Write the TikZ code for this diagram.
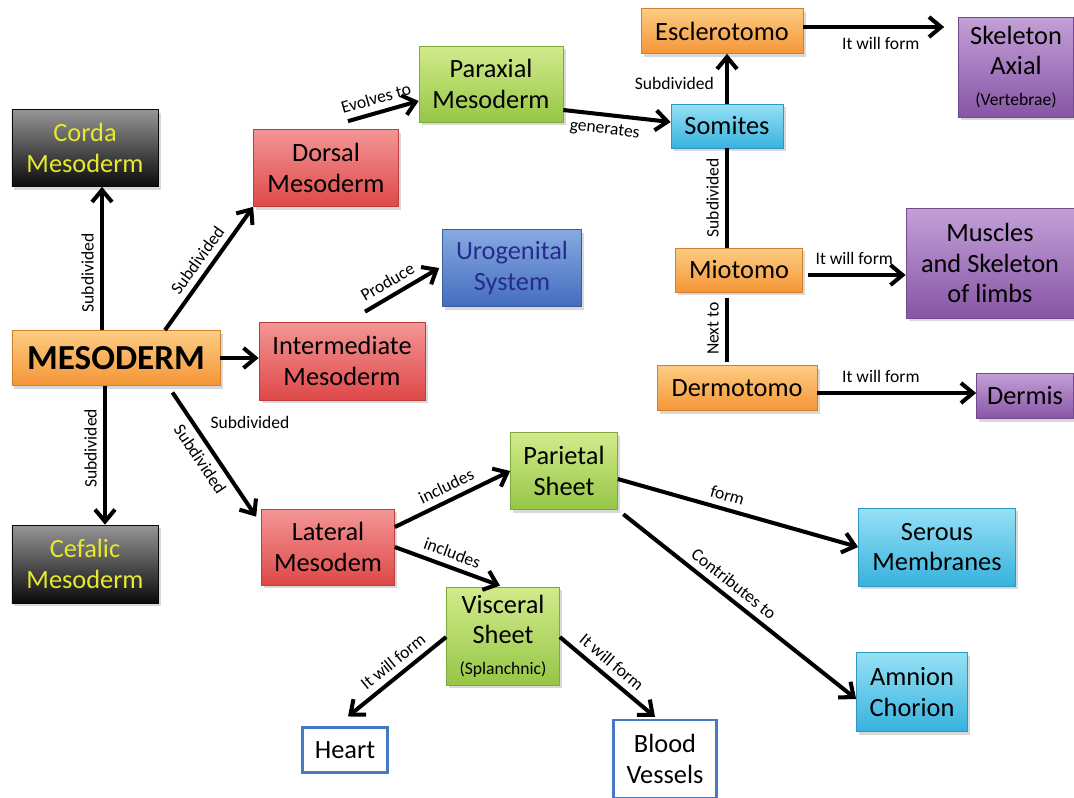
\documentclass[tikz,border=0pt]{standalone}
\usepackage{fontspec}
\setmainfont{Carlito}
\usepackage{tikz}
\usetikzlibrary{arrows.meta,shadows}

\definecolor{orTop}{RGB}{252,204,130}
\definecolor{orBot}{RGB}{245,150,55}
\definecolor{rdTop}{RGB}{244,150,150}
\definecolor{rdBot}{RGB}{222,72,72}
\definecolor{grTop}{RGB}{210,235,140}
\definecolor{grBot}{RGB}{150,198,70}
\definecolor{buTop}{RGB}{135,170,225}
\definecolor{buBot}{RGB}{68,108,190}
\definecolor{cyTop}{RGB}{150,225,245}
\definecolor{cyBot}{RGB}{55,178,222}
\definecolor{ppTop}{RGB}{195,160,215}
\definecolor{ppBot}{RGB}{135,85,165}
\definecolor{bkTop}{RGB}{150,150,150}
\definecolor{bkBot}{RGB}{10,10,10}
\definecolor{yel}{RGB}{232,232,45}
\definecolor{navy}{RGB}{35,45,140}
\definecolor{frame}{RGB}{70,120,195}

\begin{document}
\begin{tikzpicture}[x=0.2mm,y=-0.2mm,>={Straight Barb[length=2.4mm,width=4mm]}]
		\useasboundingbox (0,0) rectangle (1074,797);
		\tikzset{box/.style 2 args={rectangle,top color=#1,bottom color=#2,draw=#2!85!black,line width=0.4pt,align=center,inner sep=2pt,font=\fontsize{15}{17.5}\selectfont,drop shadow={shadow xshift=0.5mm,shadow yshift=-0.6mm,opacity=0.3}}}
		\tikzset{outbox/.style={rectangle,draw=frame,line width=1.2pt,fill=white,align=center,font=\fontsize{15}{17.5}\selectfont}}
		\tikzset{conn/.style={line width=2.3pt,->},link/.style={line width=2.3pt},lbl/.style={font=\fontsize{10}{12}\selectfont,inner sep=3.5pt}}
		\node[box={bkTop}{bkBot},text=yel,minimum width=29.2mm,minimum height=15.4mm] (corda) at (85,148) {Corda\\Mesoderm}; %left column
		\node[box={orTop}{orBot},minimum width=41.6mm,minimum height=11mm,font=\fontsize{20}{24}\selectfont\bfseries] (meso) at (116,358) {MESODERM};
		\node[box={bkTop}{bkBot},text=yel,minimum width=29.2mm,minimum height=15.6mm] (cefalic) at (85,564) {Cefalic\\Mesoderm};
		\node[box={rdTop}{rdBot},minimum width=29mm,minimum height=15.4mm] (dorsal) at (326,168) {Dorsal\\Mesoderm}; %subdivisions
		\node[box={rdTop}{rdBot},minimum width=33.2mm,minimum height=15.6mm] (intermed) at (342,361) {Intermediate\\Mesoderm};
		\node[box={rdTop}{rdBot},minimum width=26.6mm,minimum height=15.2mm] (lateral) at (328,547) {Lateral\\Mesodem};
		\node[box={grTop}{grBot},minimum width=28.8mm,minimum height=15.2mm] (paraxial) at (491,84) {Paraxial\\Mesoderm};
		\node[box={buTop}{buBot},text=navy,minimum width=27.8mm,minimum height=15.4mm] (urogen) at (512,268) {Urogenital\\System};
		\node[box={orTop}{orBot},minimum width=32.4mm,minimum height=9mm] (escler) at (722,31) {Esclerotomo}; %somites
		\node[box={cyTop}{cyBot},minimum width=22.4mm,minimum height=8.8mm] (somites) at (727,126) {Somites};
		\node[box={orTop}{orBot},minimum width=25.4mm,minimum height=8.8mm] (miotomo) at (739,270) {Miotomo};
		\node[box={orTop}{orBot},minimum width=32mm,minimum height=9mm] (dermotomo) at (737,388) {Dermotomo};
		\node[box={ppTop}{ppBot},minimum width=23mm,minimum height=20mm] (skelax) at (1016,67) {Skeleton\\Axial\\{\fontsize{10}{12}\selectfont(Vertebrae)}};
		\node[box={ppTop}{ppBot},minimum width=33.6mm,minimum height=22mm] (muscles) at (990,263) {Muscles\\and Skeleton\\of limbs};
		\node[box={ppTop}{ppBot},minimum width=19.4mm,minimum height=9mm] (dermis) at (1025,396) {Dermis};
		\node[box={grTop}{grBot},minimum width=21.4mm,minimum height=15.4mm] (parietal) at (564,471) {Parietal\\Sheet}; %sheets
		\node[box={grTop}{grBot},minimum width=22.6mm,minimum height=19.6mm] (visceral) at (503,636) {Visceral\\Sheet\\{\fontsize{10}{12}\selectfont(Splanchnic)}};
		\node[box={cyTop}{cyBot},minimum width=31.4mm,minimum height=15.6mm] (serous) at (937,547) {Serous\\Membranes};
		\node[box={cyTop}{cyBot},minimum width=22.2mm,minimum height=15.8mm] (amnion) at (912,692) {Amnion\\Chorion};
		\node[outbox,minimum width=17mm,minimum height=9mm] (heart) at (345,750) {Heart};
		\node[outbox,minimum width=20.6mm,minimum height=15.6mm] (blood) at (665,759) {Blood\\Vessels};
		\draw[conn] ([xshift=-2.8mm]meso.north) -- ([xshift=-2.8mm]meso.north |- corda.south) node[lbl,pos=0.4,sloped,above] (lcorda) {Subdivided}; %arrows from mesoderm
		\draw[conn] ([xshift=-2.2mm]meso.south) -- ([xshift=-2.2mm]meso.south |- cefalic.north) node[lbl,pos=0.45,rotate=90,anchor=south] (lcefalic) {Subdivided};
		\draw[conn] ([xshift=9.8mm]meso.north) -- (dorsal.south west) node[lbl,midway,sloped,above] (ldorsal) {Subdivided};
		\draw[conn] (meso.east) -- (meso.east -| intermed.west);
		\draw[conn,shorten <=1.6mm] ([xshift=10.4mm]meso.south) -- ([xshift=-1mm,yshift=-1.6mm]lateral.north west) node[lbl,midway,sloped,below] (llateral) {Subdivided};
		\node[lbl] (lsub) at (250,422) {Subdivided};
		\draw[conn] ([xshift=4.4mm,yshift=1.6mm]dorsal.north) -- ([yshift=-3.4mm]paraxial.west) node[lbl,pos=0.45,sloped,above] (lparax) {Evolves to}; %dorsal branch
		\draw[conn] ([yshift=-5.2mm]paraxial.east) -- ([yshift=0.8mm]somites.west) node[lbl,pos=0.4,sloped,below] (lsom) {generates};
		\draw[conn] (somites.north) -- (somites.north |- escler.south) node[lbl,pos=0.4,left=1mm] (lescl) {Subdivided};
		\draw[conn,shorten >=2.8mm] ([yshift=0.8mm]escler.east) -- ([yshift=0.8mm]escler.east -| skelax.west) node[lbl,midway,below=0.5mm] (lskel) {It will form};
		\draw[link] (somites.south |- miotomo.north) -- (somites.south) node[lbl,midway,sloped,above] (lmio) {Subdivided};
		\draw[link,shorten <=0.6mm,shorten >=1.2mm] (somites.south |- dermotomo.north) -- (somites.south |- miotomo.south) node[lbl,midway,sloped,above] (lderm) {Next to};
		\draw[conn,shorten <=1mm] ([yshift=-1mm]miotomo.east) -- ([yshift=-1mm]miotomo.east -| muscles.west) node[lbl,midway,above=0.5mm] (lmusc) {It will form};
		\draw[conn] ([yshift=-1mm]dermotomo.east) -- ([yshift=-1mm]dermotomo.east -| dermis.west) node[lbl,pos=0.4,above=0.5mm] (ldermis) {It will form};
		\draw[conn] ([xshift=4.6mm,yshift=2mm]intermed.north) -- ([xshift=-0.6mm]urogen.west) node[lbl,pos=0.4,sloped,above] (luro) {Produce}; %intermediate branch
		\draw[conn] ([yshift=4mm]lateral.east) -- (parietal.west) node[lbl,midway,sloped,above] (lpar) {includes}; %lateral branch
		\draw[conn] (lateral.east) -- ([xshift=-0.6mm,yshift=0.2mm]visceral.north) node[lbl,midway,sloped,above] (lvisc) {includes};
		\draw[conn] ([yshift=-1.6mm]parietal.east) -- (serous.west) node[lbl,pos=0.44,sloped,above] (lser) {form};
		\draw[conn,shorten <=1.4mm] (parietal.south east) -- ([yshift=-1.4mm]amnion.west) node[lbl,pos=0.45,sloped,above] (lamn) {Contributes to};
		\draw[<-,line width=2.3pt] ([xshift=0.6mm,yshift=2mm]heart.north) -- ([yshift=-0.2mm]visceral.west) node[lbl,pos=0.55,sloped,above] (lheart) {It will form};
		\draw[conn] ([yshift=-0.2mm]visceral.east) -- ([xshift=-2mm,yshift=0.4mm]blood.north) node[lbl,pos=0.45,sloped,above] (lblood) {It will form};
	\end{tikzpicture}
\end{document}
